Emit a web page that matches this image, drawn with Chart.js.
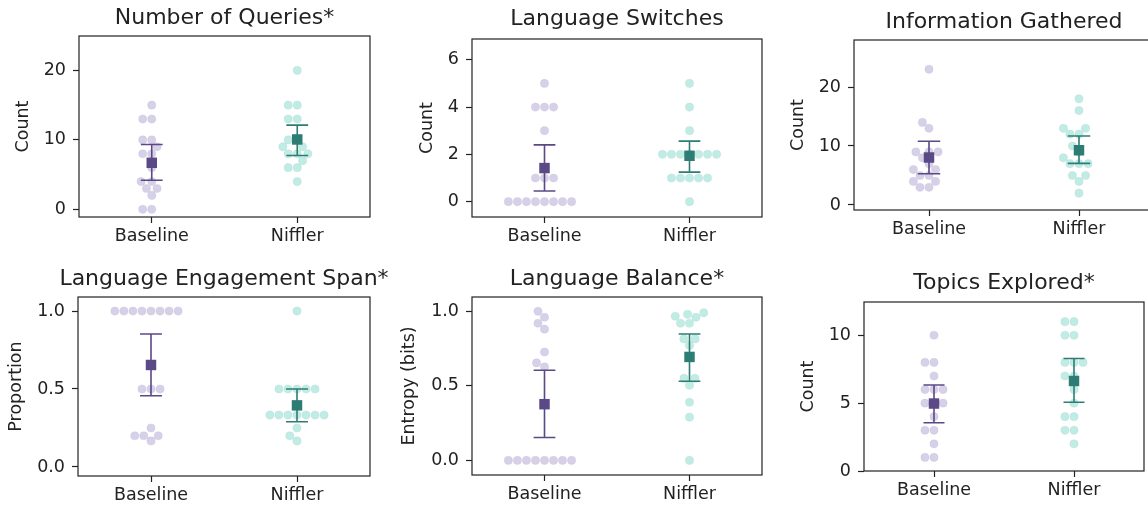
<!DOCTYPE html>
<html>
<head>
<meta charset="utf-8">
<script src="https://cdn.jsdelivr.net/npm/chart.js@4"></script>
<style>
  body { margin: 0; background: #fff; }
  #fig { position: relative; width: 1148px; height: 510px; overflow: hidden; }
  #fig canvas { position: absolute; }
</style>
</head>
<body>
<div id="fig"></div>
<script>
const groups = ['Baseline', 'Niffler'];

// Number of Queries*
const queriesBaseline = [0, 0, 2, 3, 3, 4, 4, 6, 8, 8, 9, 10, 10, 13, 13, 15];
const queriesNiffler = [4, 6, 6, 7, 8, 8, 8, 9, 9, 10, 10, 13, 13, 15, 15, 20];
const queriesMean = [6.70, 10.06];
const queriesLow = [4.19, 7.75];
const queriesHigh = [9.34, 12.12];
const queriesTicks = [0, 10, 20];

// Language Switches
const switchesBaseline = [0, 0, 0, 0, 0, 0, 0, 0, 1, 1, 1, 3, 4, 4, 4, 5];
const switchesNiffler = [0, 1, 1, 1, 1, 1, 2, 2, 2, 2, 2, 2, 2, 3, 4, 5];
const switchesMean = [1.42, 1.94];
const switchesLow = [0.45, 1.25];
const switchesHigh = [2.40, 2.56];
const switchesTicks = [0, 2, 4, 6];

// Information Gathered
const infoBaseline = [3, 3, 4, 4, 5, 5, 6, 6, 7, 8, 9, 9, 9, 13, 14, 23];
const infoNiffler = [2, 4, 5, 5, 7, 7, 7, 8, 9, 10, 12, 12, 13, 13, 16, 18];
const infoMean = [8.05, 9.28];
const infoLow = [5.3, 7.05];
const infoHigh = [10.8, 11.7];
const infoTicks = [0, 10, 20];

// Language Engagement Span*
const spanBaseline = [1, 1, 1, 1, 1, 1, 1, 1, 0.5, 0.5, 0.5, 0.25, 0.2, 0.2, 0.2, 0.167];
const spanNiffler = [1, 0.5, 0.5, 0.5, 0.5, 0.5, 0.333, 0.333, 0.333, 0.333, 0.333, 0.333, 0.333, 0.25, 0.2, 0.167];
const spanMean = [0.654, 0.395];
const spanLow = [0.457, 0.29];
const spanHigh = [0.853, 0.50];
const spanTicks = [0, 0.5, 1];

// Language Balance*
const balanceBaseline = [0, 0, 0, 0, 0, 0, 0, 0, 1.0, 0.96, 0.92, 0.88, 0.727, 0.654, 0.627];
const balanceNiffler = [0.99, 0.98, 0.967, 0.96, 0.92, 0.92, 0.815, 0.815, 0.77, 0.55, 0.55, 0.504, 0.39, 0.29, 0];
const balanceMean = [0.377, 0.694];
const balanceLow = [0.154, 0.531];
const balanceHigh = [0.605, 0.848];
const balanceTicks = [0, 0.5, 1];

// Topics Explored*
const topicsBaseline = [1, 1, 2, 3, 3, 4, 5, 5, 5, 6, 6, 6, 7, 8, 8, 10];
const topicsNiffler = [2, 3, 3, 4, 4, 5, 6, 7, 7, 8, 8, 8, 10, 10, 11, 11];
const topicsMean = [4.97, 6.63];
const topicsLow = [3.56, 5.07];
const topicsHigh = [6.33, 8.29];
const topicsTicks = [0, 5, 10];

const panels = [
  { title: 'Number of Queries*', ylabel: 'Count', base: queriesBaseline, niff: queriesNiffler,
    mean: queriesMean, low: queriesLow, high: queriesHigh, ticks: queriesTicks, ymin: -1.1, ymax: 24.95, dec: 0 },
  { title: 'Language Switches', ylabel: 'Count', base: switchesBaseline, niff: switchesNiffler,
    mean: switchesMean, low: switchesLow, high: switchesHigh, ticks: switchesTicks, ymin: -0.65, ymax: 6.88, dec: 0 },
  { title: 'Information Gathered', ylabel: 'Count', base: infoBaseline, niff: infoNiffler,
    mean: infoMean, low: infoLow, high: infoHigh, ticks: infoTicks, ymin: -0.85, ymax: 27.97, dec: 0 },
  { title: 'Language Engagement Span*', ylabel: 'Proportion', base: spanBaseline, niff: spanNiffler,
    mean: spanMean, low: spanLow, high: spanHigh, ticks: spanTicks, ymin: -0.058, ymax: 1.09, dec: 1 },
  { title: 'Language Balance*', ylabel: 'Entropy (bits)', base: balanceBaseline, niff: balanceNiffler,
    mean: balanceMean, low: balanceLow, high: balanceHigh, ticks: balanceTicks, ymin: -0.098, ymax: 1.096, dec: 1 },
  { title: 'Topics Explored*', ylabel: 'Count', base: topicsBaseline, niff: topicsNiffler,
    mean: topicsMean, low: topicsLow, high: topicsHigh, ticks: topicsTicks, ymin: 0, ymax: 12.45, dec: 0 }
];

// page placement of each subplot: canvas origin, axes box [left, right, top, bottom], title / ylabel centres
const frames = [
  { left: 0,   top: 0,   box: [79, 370, 36, 217],   titleY: 18,  labelX: 23.8 },
  { left: 380, top: 0,   box: [472, 762, 39, 217],  titleY: 18.8, labelX: 427 },
  { left: 770, top: 0,   box: [854, 1154, 40, 210], titleY: 22,  labelX: 798.8 },
  { left: 0,   top: 255, box: [78, 370, 297, 476],  titleY: 279, labelX: 16.8 },
  { left: 380, top: 255, box: [472, 762, 297, 475], titleY: 279, labelX: 409.5 },
  { left: 770, top: 255, box: [864, 1144, 302, 471], titleY: 283, labelX: 808.8 }
];

const FONT = 'DejaVu Sans';
const INK = '#222';
const DARK = ['#5b4886', '#2e7d74'];
const LIGHT = ['rgba(200,190,225,0.72)', 'rgba(168,228,220,0.72)'];
const CAP = 0.075;

// frame around the axes (matplotlib spines)
const spines = {
  id: 'spines',
  afterDatasetsDraw(chart) {
    const { ctx, chartArea: a } = chart;
    ctx.save();
    ctx.strokeStyle = INK;
    ctx.lineWidth = 1.2;
    ctx.strokeRect(a.left, a.top, a.right - a.left, a.bottom - a.top);
    ctx.restore();
  }
};

// seaborn-like beeswarm, offsets in pixels
function swarm(values, toPix, r) {
  const order = values.map((v, i) => i).sort((a, b) => values[a] - values[b] || a - b);
  const placed = [];
  const out = new Array(values.length).fill(0);
  order.forEach(i => {
    const y = toPix(values[i]);
    const near = placed.filter(p => Math.abs(p.y - y) < 2 * r);
    const cands = [0];
    let leftFirst = true;
    near.forEach(p => {
      const dx = Math.sqrt(Math.max(4 * r * r - (y - p.y) ** 2, 0)) * 1.05;
      if (leftFirst) cands.push(p.x - dx, p.x + dx);
      else cands.push(p.x + dx, p.x - dx);
      leftFirst = !leftFirst;
    });
    const sorted = cands.map((x, k) => ({ x, k }))
      .sort((a, b) => Math.abs(a.x) - Math.abs(b.x) || a.k - b.k);
    const pick = sorted.find(c => near.every(p => (c.x - p.x) ** 2 + (y - p.y) ** 2 >= 4 * r * r - 1e-6)) || sorted[0];
    placed.push({ x: pick.x, y });
    out[i] = pick.x;
  });
  return out;
}

function errorBar(k, lo, hi) {
  return [
    { x: k - CAP, y: hi }, { x: k + CAP, y: hi }, { x: k, y: NaN },
    { x: k, y: hi }, { x: k, y: lo }, { x: k, y: NaN },
    { x: k - CAP, y: lo }, { x: k + CAP, y: lo }
  ];
}

const fig = document.getElementById('fig');

panels.forEach((p, idx) => {
  const g = frames[idx];
  const canvas = document.createElement('canvas');
  // canvas symmetric about the axes box so the full-width title centres over it
  const centre = (g.box[0] + g.box[1]) / 2;
  const cw = Math.round(2 * (centre - g.left));
  const ch = g.box[3] - g.top + 40;
  const rightGap = cw - (g.box[1] - g.left);
  canvas.width = cw;
  canvas.height = ch;
  canvas.style.left = g.left + 'px';
  canvas.style.top = g.top + 'px';
  canvas.style.width = cw + 'px';
  canvas.style.height = ch + 'px';
  fig.appendChild(canvas);

  const titleLH = 22 * 1.2;
  const padTop = g.titleY - g.top - titleLH / 2;
  const padBottom = g.box[2] - g.top - padTop - titleLH;
  const tickFont = { family: FONT, size: 17.5 };

  const chart = new Chart(canvas, {
    type: 'scatter',
    data: {
      datasets: [
        { data: p.base.map(v => ({ x: 0, y: v })), backgroundColor: LIGHT[0], borderColor: 'rgba(120,110,140,0.18)',
          borderWidth: 0.6, pointRadius: 4.1, order: 3 },
        { data: p.niff.map(v => ({ x: 1, y: v })), backgroundColor: LIGHT[1], borderColor: 'rgba(100,140,135,0.18)',
          borderWidth: 0.6, pointRadius: 4.1, order: 3 },
        { data: errorBar(0, p.low[0], p.high[0]), showLine: true, borderColor: DARK[0], borderWidth: 1.6,
          pointRadius: 0, spanGaps: false, order: 2 },
        { data: errorBar(1, p.low[1], p.high[1]), showLine: true, borderColor: DARK[1], borderWidth: 1.6,
          pointRadius: 0, spanGaps: false, order: 2 },
        { data: p.mean.map((v, k) => ({ x: k, y: v })), pointStyle: 'rect', pointRadius: 7.4,
          backgroundColor: DARK, borderColor: DARK, borderWidth: 0, order: 1 }
      ]
    },
    options: {
      responsive: false,
      animation: false,
      events: [],
      layout: { padding: 0 },
      plugins: {
        legend: { display: false },
        tooltip: { enabled: false },
        title: {
          display: true, text: p.title, fullSize: true, color: INK,
          font: { family: FONT, size: 22, weight: 'normal' },
          padding: { top: padTop, bottom: padBottom }
        }
      },
      scales: {
        x: {
          type: 'linear', min: -0.5, max: 1.5,
          afterFit: s => { s.height = 40; },
          afterBuildTicks: s => { s.ticks = groups.map((n, k) => ({ value: k })); },
          ticks: { callback: v => groups[v], font: tickFont, color: INK, padding: 3, maxRotation: 0 },
          grid: { drawOnChartArea: false, drawTicks: true, tickLength: 6, tickWidth: 1.2, tickColor: INK },
          border: { display: false }
        },
        y: {
          type: 'linear', min: p.ymin, max: p.ymax,
          afterFit: s => { s.width = g.box[0] - g.left; },
          afterBuildTicks: s => { s.ticks = p.ticks.map(v => ({ value: v })); },
          ticks: { callback: v => v.toFixed(p.dec), font: tickFont, color: INK, padding: 7 },
          grid: { drawOnChartArea: false, drawTicks: true, tickLength: 6, tickWidth: 1.2, tickColor: INK },
          border: { display: false },
          title: {
            display: true, text: p.ylabel, color: INK, font: tickFont,
            padding: { top: g.labelX - g.left - 17.5 * 1.2 / 2, bottom: 0 }
          }
        },
        // empty spacer on the right, keeps the plot box in place
        gap: {
          type: 'linear', position: 'right', min: 0, max: 1,
          afterFit: s => { s.width = rightGap; },
          ticks: { display: false },
          grid: { display: false },
          border: { display: false }
        }
      }
    },
    plugins: [spines]
  });

  // spread the points sideways like a swarm plot
  const xs = chart.scales.x, ys = chart.scales.y;
  const perUnit = xs.getPixelForValue(1) - xs.getPixelForValue(0);
  [p.base, p.niff].forEach((vals, k) => {
    const off = swarm(vals, v => ys.getPixelForValue(v), 4.3);
    chart.data.datasets[k].data = vals.map((v, i) => ({ x: k + off[i] / perUnit, y: v }));
  });
  chart.update('none');
});
</script>
</body>
</html>
